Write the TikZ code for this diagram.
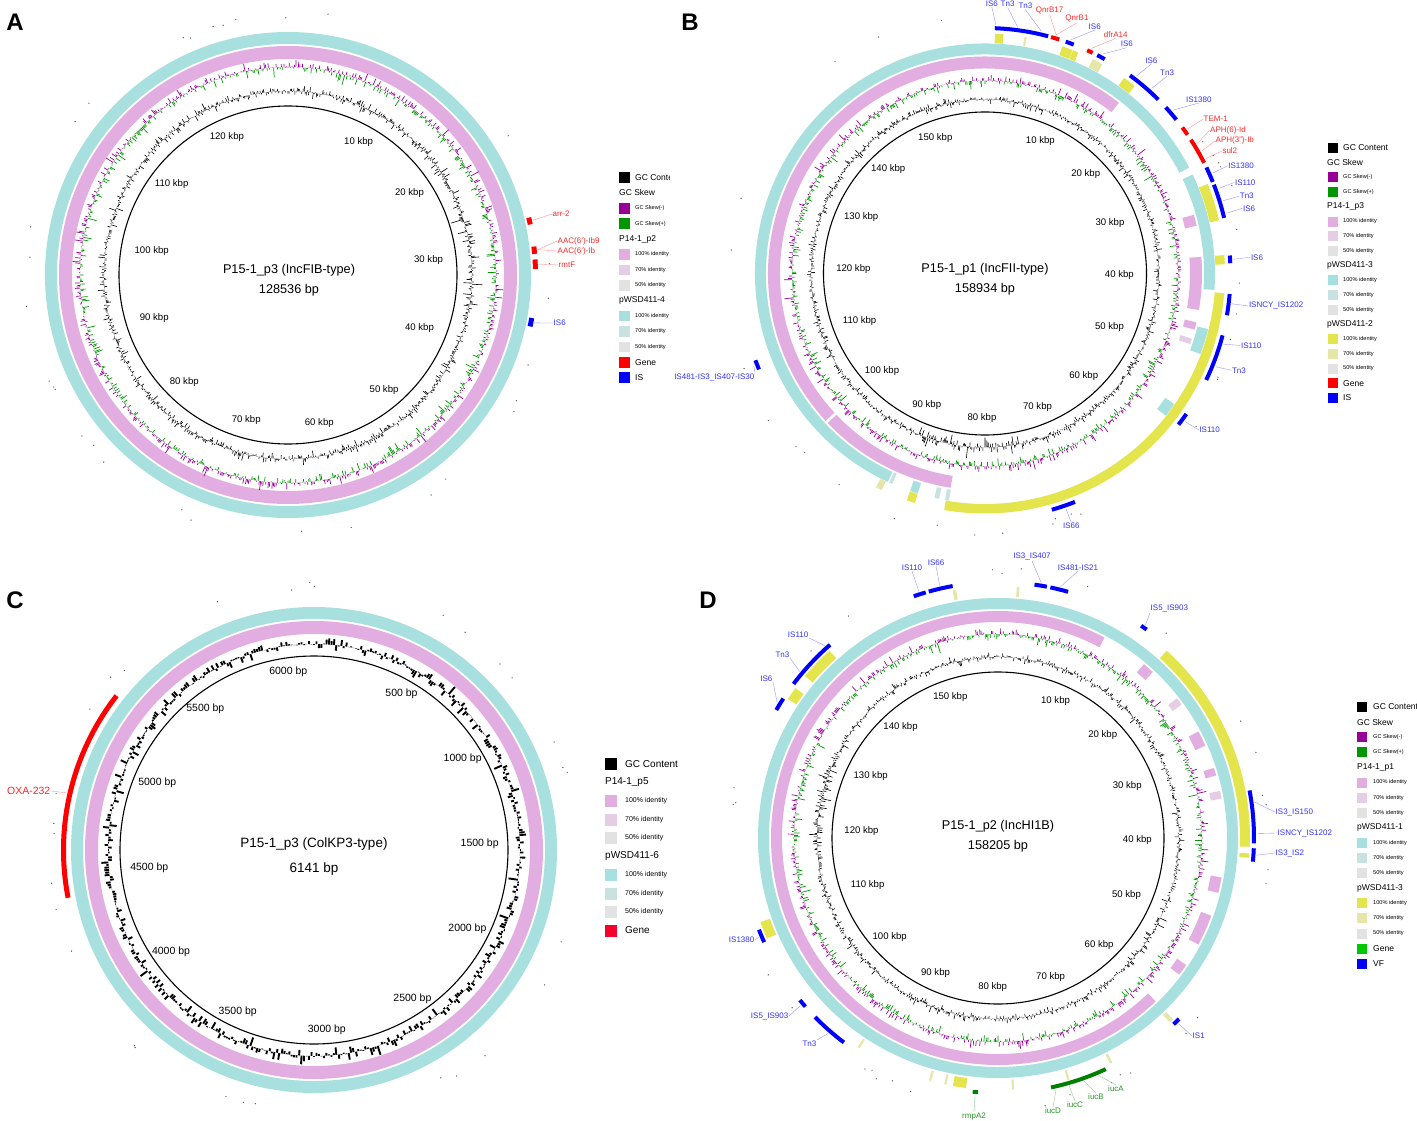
\documentclass[tikz,border=0pt]{standalone}
\usepackage{fontspec}
\setmainfont{Liberation Sans}
\usetikzlibrary{calc}
\definecolor{skp}{RGB}{0,150,0}
\definecolor{skm}{RGB}{150,0,150}
\definecolor{pk1}{RGB}{226,174,226}
\definecolor{pk2}{RGB}{230,205,230}
\definecolor{gr5}{RGB}{226,226,226}
\definecolor{cy1}{RGB}{168,224,224}
\definecolor{cy2}{RGB}{200,226,226}
\definecolor{ye1}{RGB}{228,228,76}
\definecolor{ye2}{RGB}{230,230,168}
\definecolor{genered}{RGB}{255,0,0}
\definecolor{isblue}{RGB}{0,0,255}
\definecolor{labred}{RGB}{255,40,40}
\definecolor{labblue}{RGB}{50,50,255}
\definecolor{vfgreen}{RGB}{0,128,0}
\definecolor{lggreen}{RGB}{0,200,0}
\definecolor{labgreen}{RGB}{40,150,40}
\definecolor{crimson}{RGB}{245,0,45}

\newcommand{\setc}[2]{\def\cx{#1}\def\cy{#2}}
\newcommand{\fullring}[3]{\pgfmathsetmacro\lw{#3-#2}\pgfmathsetmacro\rmid{(#2+#3)/2}%
  \draw[#1,line width=\lw pt] (\cx,\cy) circle[radius=\rmid];}
\newcommand{\arcseg}[5]{\pgfmathsetmacro\lw{#3-#2}\pgfmathsetmacro\rmid{(#2+#3)/2}%
  \pgfmathsetmacro\sa{#4-90}\pgfmathsetmacro\ea{#5-90}%
  \draw[#1,line width=\lw pt] ($(\cx,\cy)+(\sa:\rmid)$) arc[start angle=\sa,end angle=\ea,radius=\rmid];}
\newcommand{\skewring}[4]{\pgfmathsetseed{#4}\pgfmathsetmacro\stp{360/#3}%
  \begin{scope}[shift={(\cx,\cy)}]
  \foreach \i in {1,...,#3}{%
    \pgfmathsetmacro\ang{\i*\stp-90}%
    \pgfmathsetmacro\vv{rand*(0.3+0.7*rnd*rnd)}%
    \pgfmathsetmacro\rad{#1+#2*\vv}%
    \pgfmathtruncatemacro\sgn{\vv>0}%
    \ifnum\sgn=1 \def\col{skm}\else\def\col{skp}\fi
    \draw[\col,line width=0.7pt] (\ang:#1) -- (\ang:\rad);
  }
  \end{scope}}
\newcommand{\gcring}[8]{\pgfmathsetseed{#4}\pgfmathsetmacro\stp{360/#3}%
  \begin{scope}[shift={(\cx,\cy)}]
  \foreach \i in {1,...,#3}{%
    \pgfmathsetmacro\tha{\i*\stp}%
    \pgfmathsetmacro\fac{((\tha>#6)&&(\tha<#7))?1.9:1}%
    \pgfmathsetmacro\rad{#1+#2*\fac*rand*(#8+(1-#8)*rnd*rnd)}%
    \draw[black,line width=#5] (\tha-90:#1) -- (\tha-90:\rad);
  }
  \end{scope}}
\newcommand{\klabels}[5]{%
  \begin{scope}[shift={(\cx,\cy)}]
  \foreach \kk in {1,...,#1}{%
    \pgfmathsetmacro\tha{\kk*#2}%
    \pgfmathsetmacro\anc{90-\tha}%
    \pgfmathtruncatemacro\numv{\kk*#4}%
    \node[klab,anchor=\anc] at (\tha-90:#3) {\numv\ #5};
  }
  \end{scope}}
\newcommand{\scatterdots}[3]{\pgfmathsetseed{#3}%
  \begin{scope}[shift={(\cx,\cy)}]
  \foreach \j in {1,...,#2}{\pgfmathsetmacro\da{rnd*360}\pgfmathsetmacro\dr{#1+rnd*8}%
    \fill[black!65] (\da:\dr) circle[radius=0.7];}
  \end{scope}}
\newcommand{\featlab}[7]{\pgfmathsetmacro\fa{#2-90}%
  \coordinate (#1m) at ($(\cx,\cy)+(\fa:#3)$);
  \node[flab,text=#7,anchor=#5] (#1t) at #4 {#6};
  \draw[#7!55,line width=0.35pt] (#1m) -- (#1t.#5);}
\newcommand{\lgsq}[5]{\pgfmathsetmacro\yy{\lyo+\ldy*#2}%
  \node[sw,minimum size=\lsz pt,fill=#3] (#1s) at (\lxs,\yy) {};
  \node[#4] (#1t) at (\lxt,\yy) {#5};}
\newcommand{\lghead}[4]{\pgfmathsetmacro\yy{\lyo+\ldy*#2}\node[#3] (#1) at (\lxh,\yy) {#4};}

\begin{document}
\begin{tikzpicture}[x=1pt,y=-1pt,
  sw/.style={inner sep=0pt,outer sep=0pt,draw=none},
  lgh/.style={anchor=west,inner sep=0pt,font=\fontsize{8.5}{9}\selectfont},
  lgs/.style={anchor=west,inner sep=0pt,font=\fontsize{5.6}{6}\selectfont},
  lghC/.style={anchor=west,inner sep=0pt,font=\fontsize{10}{11}\selectfont},
  lgsC/.style={anchor=west,inner sep=0pt,font=\fontsize{7}{8}\selectfont},
  flab/.style={inner sep=0.5pt,font=\fontsize{8}{9}\selectfont},
  flabC/.style={inner sep=0.5pt,font=\fontsize{10.5}{11}\selectfont},
  klab/.style={inner sep=1pt,font=\fontsize{9.6}{10}\selectfont},
  klabC/.style={inner sep=1pt,font=\fontsize{10.5}{11}\selectfont},
  ttl/.style={inner sep=0pt,font=\fontsize{12.7}{14}\selectfont},
  ttlC/.style={inner sep=0pt,font=\fontsize{13.5}{15}\selectfont},
  pl/.style={inner sep=0pt,font=\fontsize{24}{26}\selectfont\bfseries}]
\useasboundingbox (0,0) rectangle (1417,1121);
\fill[white] (0,0) rectangle (1417,1121);

\node[pl] (LA) at (15,22) {A};
\node[pl] (LB) at (690,22) {B};
\node[pl] (LC) at (15,600) {C};
\node[pl] (LD) at (708,600) {D};

%%%%%%%%%%%%%%%% Panel A
\setc{288}{275}
\fullring{cy1}{231}{243}
\fullring{pk1}{216}{229}
\skewring{208}{12}{1000}{11}
\gcring{184}{9}{1000}{12}{0.6pt}{70}{100}{0.25}
\draw[black,line width=1.1pt] (\cx,\cy) circle[radius=169];
\klabels{12}{28.0077}{157}{10}{kbp}
\scatterdots{256}{30}{5}
\node[ttl] (At1) at (289,270) {P15-1\_p3 (IncFIB-type)};
\node[ttl] (At2) at (289,290) {128536 bp};
\arcseg{genered}{245}{250}{76.6}{78.2}
\arcseg{genered}{245}{250}{83.4}{85.1}
\arcseg{genered}{245}{250}{86.4}{88.6}
\arcseg{isblue}{245}{250}{100}{102}
\featlab{Aa}{77.4}{251}{(552,214)}{west}{arr-2}{labred}
\featlab{Ab}{84.2}{251}{(557,241)}{west}{AAC(6')-Ib9}{labred}
\featlab{Ac}{84.2}{251}{(557,251)}{west}{AAC(6')-Ib}{labred}
\featlab{Ad}{87.5}{251}{(558,265)}{west}{rmtF}{labred}
\featlab{Ae}{101}{251}{(553,323)}{west}{IS6}{labblue}
\begin{scope}
\clip (600,160) rectangle (669.5,400);
\def\lxs{624.5}\def\lxt{635}\def\lxh{619}\def\lyo{177.5}\def\ldy{15.4}\def\lsz{10.5}
\lgsq{Ag}{0}{black}{lgh}{GC Content}
\lghead{Ask}{1}{lgh}{GC Skew}
\lgsq{Am}{2}{skm}{lgs}{GC Skew(-)}
\lgsq{Ap}{3}{skp}{lgs}{GC Skew(+)}
\lghead{Ah1}{4}{lgh}{P14-1\_p2}
\lgsq{Aq1}{5}{pk1}{lgs}{100\% identity}
\lgsq{Aq2}{6}{pk2}{lgs}{70\% identity}
\lgsq{Aq3}{7}{gr5}{lgs}{50\% identity}
\lghead{Ah2}{8}{lgh}{pWSD411-4}
\lgsq{Ar1}{9}{cy1}{lgs}{100\% identity}
\lgsq{Ar2}{10}{cy2}{lgs}{70\% identity}
\lgsq{Ar3}{11}{gr5}{lgs}{50\% identity}
\lgsq{Age}{12}{genered}{lgh}{Gene}
\lgsq{Ais}{13}{isblue}{lgh}{IS}
\end{scope}

%%%%%%%%%%%%%%%% Panel B
\setc{985}{273.5}
\foreach \a/\b in {205/422.6,64.5/94.1,104/110.5,124.6/128.2,197/199}{\arcseg{cy1}{219}{230}{\a}{\b}}
\foreach \a/\b in {191.5/192.7,189/190,203.8/204.6}{\arcseg{cy2}{219}{230}{\a}{\b}}
\foreach \a/\b in {189.1/398.1,74.3/77.3,85.6/99.7,103/105}{\arcseg{pk1}{205}{217}{\a}{\b}}
\arcseg{pk2}{205}{217}{107.5}{109}
\arcseg{white}{204}{218}{226.5}{227.2}
\foreach \a/\b in {2.4/4.4,18.8/21.4,21.5/22.9,35.4/38.6,68.1/77.2,85.6/87.8,94.7/189.8,197/199}{\arcseg{ye1}{230.5}{240}{\a}{\b}}
\foreach \a/\b in {9.5/10,26.7/29.3,205.5/207}{\arcseg{ye2}{230.5}{240}{\a}{\b}}
\skewring{193}{11}{1000}{21}
\gcring{174}{8}{1000}{22}{0.6pt}{165}{205}{0.25}
\draw[black,line width=1.1pt] (\cx,\cy) circle[radius=161.5];
\klabels{15}{22.6509}{150}{10}{kbp}
\scatterdots{254}{30}{25}
\node[ttl] (Bt1x) at (985,269.5) {P15-1\_p1 (IncFII-type)};
\node[ttl] (Bt2x) at (985,289) {158934 bp};
\foreach \a/\b in {2.3/14.9,19.2/21.2,27.2/29.2,36.2/44.9,47.4/51.2,64.4/68.1,68.8/76.9,85.8/87.6,94.8/99.8,104.6/115.7,124.9/128,158.5/164.2,247/249.3}{\arcseg{isblue}{243.5}{247.5}{\a}{\b}}
\foreach \a/\b in {15.6/17.6,24.6/26,53.5/55.6,57/63.2}{\arcseg{genered}{243.5}{247.5}{\a}{\b}}
\featlab{Bt1}{2.5}{249}{(991.8,7)}{south}{IS6}{labblue}
\featlab{Bt2}{7.5}{249}{(1007.6,7.6)}{south}{Tn3}{labblue}
\featlab{Bt3}{13}{249}{(1025.4,9.7)}{south}{Tn3}{labblue}
\featlab{Bt4}{16.6}{249}{(1049.6,14.6)}{south}{QnrB17}{labred}
\featlab{Bt5}{16.6}{249}{(1076.9,22.8)}{south}{QnrB1}{labred}
\featlab{Bt6}{20.2}{249}{(1094.7,30.1)}{south}{IS6}{labblue}
\featlab{Bt7}{25.3}{249}{(1115.7,38.4)}{south}{dfrA14}{labred}
\featlab{Bt8}{28.2}{249}{(1126.8,47.7)}{south}{IS6}{labblue}
\featlab{Bt9}{37.5}{249}{(1151.3,63.9)}{south}{IS6}{labblue}
\featlab{Bt10}{42}{249}{(1167.1,76)}{south}{Tn3}{labblue}
\featlab{Bt11}{49}{249}{(1198.8,103)}{south}{IS1380}{labblue}
\featlab{Br1}{54.5}{249}{(1203,119.2)}{west}{TEM-1}{labred}
\featlab{Br2}{58.5}{249}{(1209.5,130.6)}{west}{APH(6)-Id}{labred}
\featlab{Br3}{60.5}{249}{(1215,140.9)}{west}{APH(3'')-Ib}{labred}
\featlab{Br4}{62.5}{249}{(1221.8,151)}{west}{sul2}{labred}
\featlab{Br5}{66.2}{249}{(1227.7,165.8)}{west}{IS1380}{labblue}
\featlab{Br6}{70}{249}{(1234.4,182.4)}{west}{IS110}{labblue}
\featlab{Br7}{73}{249}{(1239.2,196.2)}{west}{Tn3}{labblue}
\featlab{Br8}{76}{249}{(1242.4,208.3)}{west}{IS6}{labblue}
\featlab{Br9}{86.7}{249}{(1250.3,257.3)}{west}{IS6}{labblue}
\featlab{Br10}{97}{249}{(1248.3,306)}{west}{ISNCY\_IS1202}{labblue}
\featlab{Br11}{106.5}{249}{(1240.4,345.4)}{west}{IS110}{labblue}
\featlab{Br12}{112}{249}{(1231.3,370.3)}{west}{Tn3}{labblue}
\featlab{Br13}{126.5}{249}{(1198.8,430)}{west}{IS110}{labblue}
\featlab{Br14}{161}{249}{(1071.3,522.5)}{north}{IS66}{labblue}
\featlab{Br15}{248.2}{249}{(755,373)}{north east}{IS481-IS3\_IS407-IS30}{labblue}
\def\lxs{1333}\def\lxt{1343}\def\lxh{1327}\def\lyo{148}\def\ldy{14.7}\def\lsz{10}
\lgsq{Bg}{0}{black}{lgh}{GC Content}
\lghead{Bsk}{1}{lgh}{GC Skew}
\lgsq{Bm}{2}{skm}{lgs}{GC Skew(-)}
\lgsq{Bp}{3}{skp}{lgs}{GC Skew(+)}
\lghead{Bh1}{4}{lgh}{P14-1\_p3}
\lgsq{Bq1}{5}{pk1}{lgs}{100\% identity}
\lgsq{Bq2}{6}{pk2}{lgs}{70\% identity}
\lgsq{Bq3}{7}{gr5}{lgs}{50\% identity}
\lghead{Bh2}{8}{lgh}{pWSD411-3}
\lgsq{Bx1}{9}{cy1}{lgs}{100\% identity}
\lgsq{Bx2}{10}{cy2}{lgs}{70\% identity}
\lgsq{Bx3}{11}{gr5}{lgs}{50\% identity}
\lghead{Bh3}{12}{lgh}{pWSD411-2}
\lgsq{By1}{13}{ye1}{lgs}{100\% identity}
\lgsq{By2}{14}{ye2}{lgs}{70\% identity}
\lgsq{By3}{15}{gr5}{lgs}{50\% identity}
\lgsq{Bge}{16}{genered}{lgh}{Gene}
\lgsq{Bis}{17}{isblue}{lgh}{IS}

%%%%%%%%%%%%%%%% Panel C
\setc{314}{850}
\fullring{cy1}{231}{243}
\fullring{pk1}{216}{229}
\gcring{206}{11}{520}{31}{1.9pt}{0}{0}{0.4}
\draw[black,line width=1.1pt] (\cx,\cy) circle[radius=194];
\begin{scope}[shift={(\cx,\cy)}]
\foreach \kk in {1,...,12}{%
  \pgfmathsetmacro\tha{\kk*29.3112}%
  \pgfmathsetmacro\anc{90-\tha}%
  \pgfmathtruncatemacro\numv{\kk*500}%
  \node[klabC,anchor=\anc] at (\tha-90:186) {\numv\ bp};}
\end{scope}
\scatterdots{260}{30}{35}
\node[ttlC] (Ct1) at (314,844) {P15-1\_p3 (ColKP3-type)};
\node[ttlC] (Ct2) at (314,869) {6141 bp};
\arcseg{genered}{248}{253}{259}{308}
\pgfmathsetmacro\fa{283-90}
\coordinate (Coxm) at ($(\cx,\cy)+(\fa:254)$);
\node[flabC,text=labred,anchor=east] (Coxt) at (51,791) {OXA-232};
\draw[labred!55,line width=0.35pt] (Coxm) -- (Coxt.east);
\def\lxs{611}\def\lxt{625}\def\lxh{605}\def\lyo{764}\def\ldy{18.5}\def\lsz{12}
\lgsq{Cg}{0}{black}{lghC}{GC Content}
\lghead{Ch1}{1}{lghC}{P14-1\_p5}
\lgsq{Cq1}{2}{pk1}{lgsC}{100\% identity}
\lgsq{Cq2}{3}{pk2}{lgsC}{70\% identity}
\lgsq{Cq3}{4}{gr5}{lgsC}{50\% identity}
\lghead{Ch2}{5}{lghC}{pWSD411-6}
\lgsq{Cr1}{6}{cy1}{lgsC}{100\% identity}
\lgsq{Cr2}{7}{cy2}{lgsC}{70\% identity}
\lgsq{Cr3}{8}{gr5}{lgsC}{50\% identity}
\lgsq{Cge}{9}{crimson}{lghC}{Gene}

%%%%%%%%%%%%%%%% Panel D
\setc{998}{838}
\fullring{cy1}{229}{240}
\foreach \a/\b in {136/388,40/43,62/66,72/74,100/104,110/118,124/127}{\arcseg{pk1}{216}{227}{\a}{\b}}
\foreach \a/\b in {52/54,78/80}{\arcseg{pk2}{216}{227}{\a}{\b}}
\foreach \a/\b in {42/92,93.5/94.5,187.3/190.3,310/318,303.5/306.5,246.5/250.5}{\arcseg{ye1}{242}{252}{\a}{\b}}
\foreach \a/\b in {4.3/4.9,349.6/350.4,136/137,153/153.6,163.5/164,176.3/176.8,191.8/192.3,195.4/195.9,213.4/213.9}{\arcseg{ye2}{242}{252}{\a}{\b}}
\skewring{204}{11}{1000}{41}
\gcring{181}{8}{1000}{42}{0.6pt}{262}{292}{0.25}
\draw[black,line width=1.1pt] (\cx,\cy) circle[radius=166];
\klabels{15}{22.7553}{155}{10}{kbp}
\scatterdots{264}{30}{45}
\node[ttl] (Dt1x) at (998,826) {P15-1\_p2 (IncHI1B)};
\node[ttl] (Dt2x) at (998,846) {158205 bp};
\foreach \a/\b in {340.8/343.6,344.3/349.8,8.2/11,11.8/15.9,34/35.5,307/319,300/303,79.3/91.2,92.3/95.3,135/136.7,217/225.6,228.8/230.7,246/249}{\arcseg{isblue}{254}{258}{\a}{\b}}
\foreach \a/\b in {155/168,184.5/185.7}{\arcseg{vfgreen}{253}{257}{\a}{\b}}
\featlab{Dt1}{342.2}{259}{(912,571)}{south}{IS110}{labblue}
\featlab{Dt2}{347}{259}{(936,566)}{south}{IS66}{labblue}
\featlab{Dt3}{9.6}{259}{(1032,561)}{south}{IS3\_IS407}{labblue}
\featlab{Dt4}{14}{259}{(1078,571)}{south}{IS481-IS21}{labblue}
\featlab{Dt5}{34.7}{259}{(1150,613)}{south west}{IS5\_IS903}{labblue}
\featlab{Dl1}{318}{259}{(809,638)}{south east}{IS110}{labblue}
\featlab{Dl2}{310}{259}{(790,658)}{south east}{Tn3}{labblue}
\featlab{Dl3}{301.5}{259}{(773,682)}{south east}{IS6}{labblue}
\featlab{Dr1}{82}{259}{(1275,812)}{west}{IS3\_IS150}{labblue}
\featlab{Dr2}{89}{259}{(1277,833)}{west}{ISNCY\_IS1202}{labblue}
\featlab{Dr3}{93.8}{259}{(1275,853)}{west}{IS3\_IS2}{labblue}
\featlab{Dr4}{135.8}{259}{(1192,1036)}{west}{IS1}{labblue}
\featlab{Db1}{157}{258}{(1116,1085)}{north}{iucA}{labgreen}
\featlab{Db2}{160.5}{258}{(1096,1093)}{north}{iucB}{labgreen}
\featlab{Db3}{164}{258}{(1075,1101)}{north}{iucC}{labgreen}
\featlab{Db4}{167}{258}{(1053,1107)}{north}{iucD}{labgreen}
\featlab{Db5}{185.1}{258}{(974,1112)}{north}{rmpA2}{labgreen}
\featlab{Dl4}{221}{259}{(817,1040)}{north east}{Tn3}{labblue}
\featlab{Dl5}{229.7}{259}{(789,1016)}{east}{IS5\_IS903}{labblue}
\featlab{Dl6}{247.5}{259}{(755,940)}{east}{IS1380}{labblue}
\def\lxs{1362}\def\lxt{1373}\def\lxh{1357}\def\lyo{707}\def\ldy{15.1}\def\lsz{10}
\lgsq{Dg}{0}{black}{lgh}{GC Content}
\lghead{Dsk}{1}{lgh}{GC Skew}
\lgsq{Dm}{2}{skm}{lgs}{GC Skew(-)}
\lgsq{Dp}{3}{skp}{lgs}{GC Skew(+)}
\lghead{Dh1}{4}{lgh}{P14-1\_p1}
\lgsq{Dq1}{5}{pk1}{lgs}{100\% identity}
\lgsq{Dq2}{6}{pk2}{lgs}{70\% identity}
\lgsq{Dq3}{7}{gr5}{lgs}{50\% identity}
\lghead{Dh2}{8}{lgh}{pWSD411-1}
\lgsq{Dx1}{9}{cy1}{lgs}{100\% identity}
\lgsq{Dx2}{10}{cy2}{lgs}{70\% identity}
\lgsq{Dx3}{11}{gr5}{lgs}{50\% identity}
\lghead{Dh3}{12}{lgh}{pWSD411-3}
\lgsq{Dy1}{13}{ye1}{lgs}{100\% identity}
\lgsq{Dy2}{14}{ye2}{lgs}{70\% identity}
\lgsq{Dy3}{15}{gr5}{lgs}{50\% identity}
\lgsq{Dge}{16}{lggreen}{lgh}{Gene}
\lgsq{Dvf}{17}{isblue}{lgh}{VF}
\end{tikzpicture}
\end{document}
